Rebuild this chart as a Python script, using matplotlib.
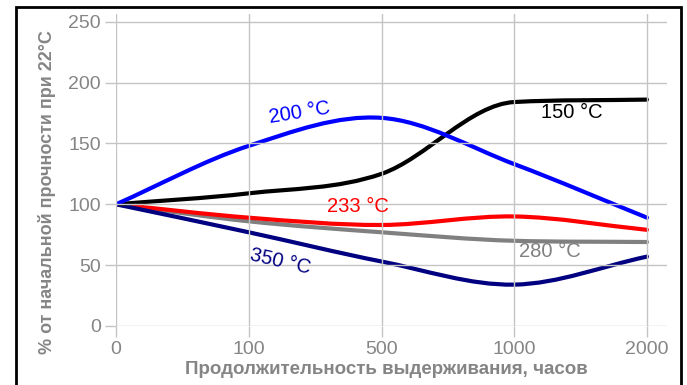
import matplotlib
matplotlib.use("Agg")
import matplotlib.pyplot as plt
from matplotlib.path import Path
from matplotlib.patches import PathPatch, Rectangle

plt.rcParams["font.family"] = ["Liberation Sans", "DejaVu Sans"]

# exposure time categories (equally spaced on the axis)
hours = ["0", "100", "500", "1000", "2000"]
pos = [0, 1, 2, 3, 4]

# % of initial strength at 22 °C
t150 = [100, 109, 125, 184, 186]
t200 = [100, 148, 171, 133, 89]
t233 = [100, 89, 83, 90, 79]
t280 = [100, 86, 77, 70, 69]
t350 = [100, 77, 53, 34, 57]

GRID = "#c4c4c4"
TXT = "#858585"


def tangents(xs, ys):
    """ Catmull-Rom slopes, limited where the curve would overshoot
    :param xs: x values
    :param ys: y values
    :return: list of slopes
    """
    n = len(xs)
    d = [(ys[i + 1] - ys[i]) / (xs[i + 1] - xs[i]) for i in range(n - 1)]
    m = [d[0]]
    for i in range(1, n - 1):
        t = (ys[i + 1] - ys[i - 1]) / (xs[i + 1] - xs[i - 1])
        if d[i - 1] * d[i] > 0:
            lim = 3 * min(abs(d[i - 1]), abs(d[i]))
            t = max(-lim, min(lim, t))
        m.append(t)
    m.append(d[-1])
    return m


def smooth_path(xs, ys):
    """ Bezier path through the points
    :param xs: x values
    :param ys: y values
    :return: matplotlib Path
    """
    m = tangents(xs, ys)
    verts = [(xs[0], ys[0])]
    codes = [Path.MOVETO]
    for i in range(len(xs) - 1):
        h = (xs[i + 1] - xs[i]) / 3
        verts += [(xs[i] + h, ys[i] + m[i] * h),
                  (xs[i + 1] - h, ys[i + 1] - m[i + 1] * h),
                  (xs[i + 1], ys[i + 1])]
        codes += [Path.CURVE4] * 3
    return Path(verts, codes)


fig = plt.figure(figsize=(6.87, 3.85), dpi=100)
ax = fig.add_axes([116 / 687, 59 / 385, 551 / 687, 312 / 385])
ax.set_xlim(0, 551 / 132.75)
ax.set_ylim(0, 250 * 312 / 304.3)

ax.set_xticks(pos)
ax.set_xticklabels(hours)
ax.set_yticks([0, 50, 100, 150, 200, 250])
ax.grid(True, color=GRID, linewidth=1)
for s in ax.spines.values():
    s.set_visible(False)
ax.tick_params(colors=GRID, labelcolor=TXT, labelsize=14, length=8, width=1, pad=3)

series = [
    (t280, "#808080"),
    (t233, "#ff0000"),
    (t350, "#000080"),
    (t150, "#000000"),
    (t200, "#0000ff"),
]
for vals, col in series:
    ax.add_patch(PathPatch(smooth_path(pos, vals), facecolor="none", edgecolor=col,
                           linewidth=3, capstyle="round", joinstyle="round"))

ax.text(1.38, 175, "200 °C", color="#0000ff", fontsize=14.5, rotation=9, ha="center", va="center")
ax.text(3.43, 175, "150 °C", color="#000000", fontsize=14.5, ha="center", va="center")
ax.text(1.82, 98, "233 °C", color="#ff0000", fontsize=14.5, ha="center", va="center")
ax.text(3.27, 61, "280 °C", color="#808080", fontsize=14.5, ha="center", va="center")
ax.text(1.24, 53, "350 °C", color="#000080", fontsize=14.5, rotation=-13, ha="center", va="center")

fig.text(386 / 687, 1 - 369 / 385, "Продолжительность выдерживания, часов", color=TXT,
         fontsize=13.5, fontweight="bold", ha="center", va="center")
fig.text(47 / 687, 1 - 192 / 385, "% от начальной прочности при 22°C", color=TXT,
         fontsize=13, fontweight="bold", rotation=90, ha="center", va="center")

# black frame around the chart
fig.patches.append(Rectangle((15.5 / 687, -0.05), 665 / 687, 1.05 - 6.5 / 385,
                             transform=fig.transFigure, fill=False,
                             edgecolor="black", linewidth=2))

fig.savefig("out.png", dpi=100)
